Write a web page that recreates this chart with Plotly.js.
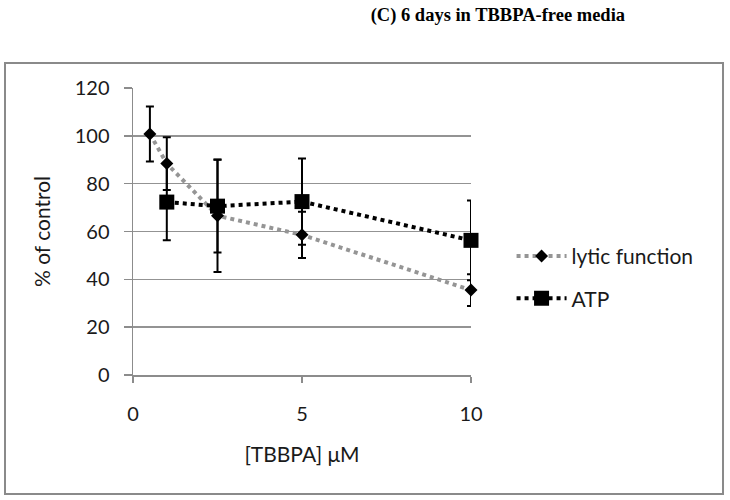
<!DOCTYPE html>
<html>
<head>
<meta charset="utf-8">
<script src="https://cdn.plot.ly/plotly-3.0.1.min.js"></script>
<style>html,body{margin:0;padding:0;background:#fff;}#chart{width:730px;height:500px;}</style>
</head>
<body>
<div id="chart"></div>
<script>
const concentrations = [0.5, 1, 2.5, 5, 10];
const lyticValues = [100.8, 88.4, 66.6, 58.6, 35.5];
const lyticErrors = [11.5, 11.0, 23.5, 9.7, 6.6];
const atpConcentrations = [1, 2.5, 5, 10];
const atpValues = [72.3, 70.6, 72.5, 56.3];
const atpErrors = [16.0, 19.4, 18.0, 16.7];
const xTicks = [0, 5, 10];
const yTicks = [0, 20, 40, 60, 80, 100, 120];

const FONT = 'Lato, "Liberation Sans", sans-serif';
const FS = 21;

const traces = [
  {
    x: concentrations, y: lyticValues, name: 'lytic function', type: 'scatter', mode: 'lines+markers',
    legendgroup: 'a', cliponaxis: false,
    line: {color: '#959595', width: 4, dash: '4px,4px'},
    marker: {symbol: 'diamond', size: 10, color: '#000'},
    error_y: {type: 'data', array: lyticErrors, visible: true, color: '#000', thickness: 2, width: 4}
  },
  {
    x: atpConcentrations, y: atpValues, name: 'ATP', type: 'scatter', mode: 'lines+markers',
    legendgroup: 'b', cliponaxis: false,
    line: {color: '#000', width: 4, dash: '4px,4px'},
    marker: {symbol: 'square', size: 15, color: '#000'},
    error_y: {type: 'data', array: atpErrors, visible: true, color: '#000', thickness: 2, width: 4}
  }
];

const layout = {
  width: 730, height: 500,
  paper_bgcolor: '#fff', plot_bgcolor: '#fff',
  margin: {l: 133, r: 259, t: 88, b: 125},
  font: {family: FONT, size: FS, color: '#1a1a1a'},
  title: {
    text: '<b>(C) 6 days in TBBPA-free media</b>',
    font: {family: '"Liberation Serif", "Times New Roman", serif', size: 18.5, color: '#000'},
    xref: 'container', x: 0.682, xanchor: 'center',
    yref: 'container', y: 0.97, yanchor: 'middle'
  },
  xaxis: {
    range: [0, 10], tickvals: xTicks, ticktext: xTicks.map(String),
    showgrid: false, zeroline: false,
    showline: true, linecolor: '#8c8c8c', linewidth: 1.5,
    ticks: 'outside', ticklen: 6, tickcolor: '#8c8c8c', tickwidth: 1.5,
    ticklabelstandoff: 14,
    tickfont: {family: FONT, size: 20, color: '#1a1a1a'},
    title: {text: '[TBBPA] μM', font: {family: FONT, size: FS, color: '#1a1a1a'}, standoff: 24}
  },
  yaxis: {
    range: [0, 120], tickvals: yTicks, ticktext: yTicks.map(String),
    showgrid: true, gridcolor: '#939393', gridwidth: 1.5, zeroline: false,
    showline: true, linecolor: '#8c8c8c', linewidth: 1.5,
    ticks: 'outside', ticklen: 8, tickcolor: '#8c8c8c', tickwidth: 1.5,
    ticklabelstandoff: 10,
    tickfont: {family: FONT, size: 20, color: '#1a1a1a'},
    title: {text: '% of control', font: {family: FONT, size: FS, color: '#1a1a1a'}, standoff: 18}
  },
  legend: {
    x: 1.12, xanchor: 'left', y: 0.34, yanchor: 'middle',
    traceorder: 'grouped', tracegroupgap: 12,
    font: {family: FONT, size: FS, color: '#1a1a1a'},
    bgcolor: 'rgba(0,0,0,0)', itemwidth: 50
  },
  shapes: [{
    type: 'rect', xref: 'paper', yref: 'paper',
    x0: -0.3787, x1: 1.7456, y0: -0.4146, y1: 1.0871,
    line: {color: '#8a8a8a', width: 2}, fillcolor: 'rgba(0,0,0,0)', layer: 'below'
  }],
  showlegend: true
};

Plotly.newPlot('chart', traces, layout, {displayModeBar: false, staticPlot: true});
</script>
</body>
</html>
